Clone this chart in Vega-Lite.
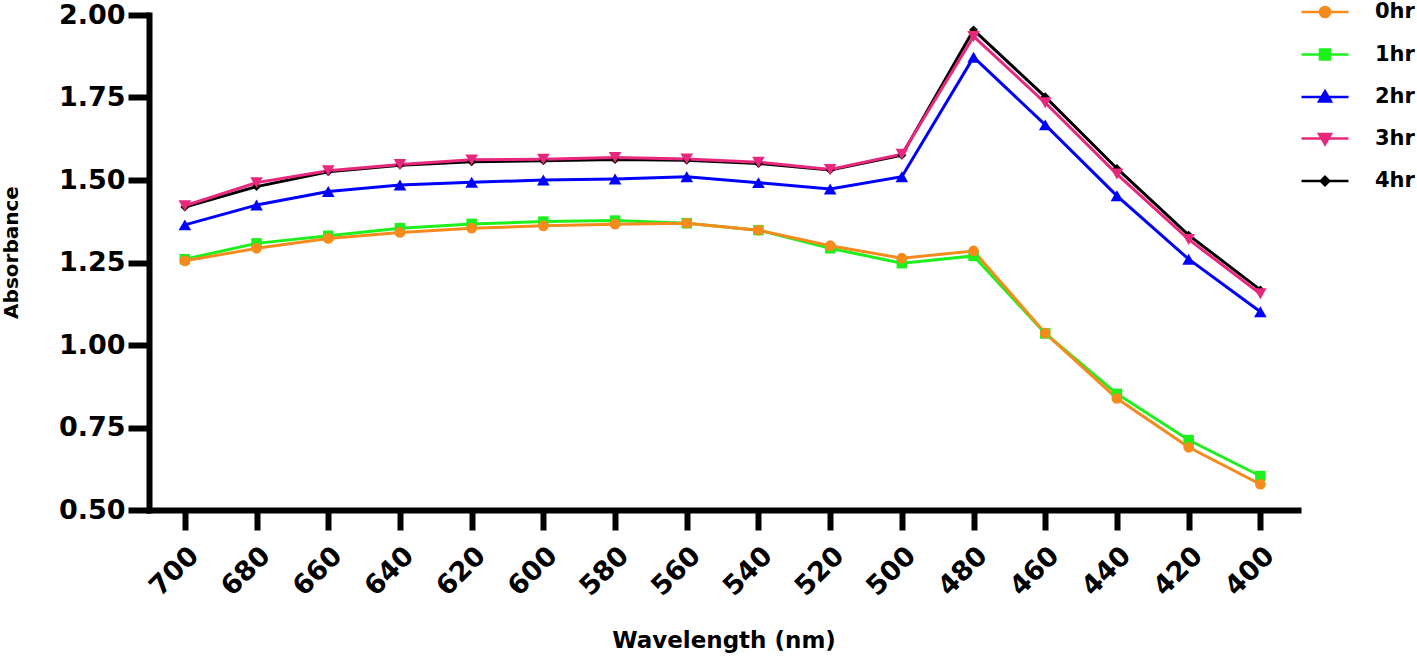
{
  "$schema": "https://vega.github.io/schema/vega-lite/v6.json",
  "autosize": "none",
  "width": 1149,
  "height": 495,
  "padding": {"left": 149, "top": 15, "right": 119, "bottom": 149},
  "background": "white",
  "config": {
    "view": {"stroke": null},
    "font": "DejaVu Sans"
  },
  "data": {
    "values": [
      {"wl": 700, "t": "4hr", "a": 1.418}, {"wl": 680, "t": "4hr", "a": 1.480}, {"wl": 660, "t": "4hr", "a": 1.525}, {"wl": 640, "t": "4hr", "a": 1.545},
      {"wl": 620, "t": "4hr", "a": 1.555}, {"wl": 600, "t": "4hr", "a": 1.558}, {"wl": 580, "t": "4hr", "a": 1.562}, {"wl": 560, "t": "4hr", "a": 1.560},
      {"wl": 540, "t": "4hr", "a": 1.550}, {"wl": 520, "t": "4hr", "a": 1.530}, {"wl": 500, "t": "4hr", "a": 1.575}, {"wl": 480, "t": "4hr", "a": 1.955},
      {"wl": 460, "t": "4hr", "a": 1.752}, {"wl": 440, "t": "4hr", "a": 1.535}, {"wl": 420, "t": "4hr", "a": 1.333}, {"wl": 400, "t": "4hr", "a": 1.167},

      {"wl": 700, "t": "3hr", "a": 1.422}, {"wl": 680, "t": "3hr", "a": 1.492}, {"wl": 660, "t": "3hr", "a": 1.528}, {"wl": 640, "t": "3hr", "a": 1.547},
      {"wl": 620, "t": "3hr", "a": 1.561}, {"wl": 600, "t": "3hr", "a": 1.563}, {"wl": 580, "t": "3hr", "a": 1.568}, {"wl": 560, "t": "3hr", "a": 1.564},
      {"wl": 540, "t": "3hr", "a": 1.554}, {"wl": 520, "t": "3hr", "a": 1.532}, {"wl": 500, "t": "3hr", "a": 1.578}, {"wl": 480, "t": "3hr", "a": 1.935},
      {"wl": 460, "t": "3hr", "a": 1.734}, {"wl": 440, "t": "3hr", "a": 1.518}, {"wl": 420, "t": "3hr", "a": 1.320}, {"wl": 400, "t": "3hr", "a": 1.155},

      {"wl": 700, "t": "2hr", "a": 1.364}, {"wl": 680, "t": "2hr", "a": 1.424}, {"wl": 660, "t": "2hr", "a": 1.465}, {"wl": 640, "t": "2hr", "a": 1.485},
      {"wl": 620, "t": "2hr", "a": 1.493}, {"wl": 600, "t": "2hr", "a": 1.500}, {"wl": 580, "t": "2hr", "a": 1.503}, {"wl": 560, "t": "2hr", "a": 1.510},
      {"wl": 540, "t": "2hr", "a": 1.492}, {"wl": 520, "t": "2hr", "a": 1.473}, {"wl": 500, "t": "2hr", "a": 1.510}, {"wl": 480, "t": "2hr", "a": 1.872},
      {"wl": 460, "t": "2hr", "a": 1.667}, {"wl": 440, "t": "2hr", "a": 1.452}, {"wl": 420, "t": "2hr", "a": 1.260}, {"wl": 400, "t": "2hr", "a": 1.101},

      {"wl": 700, "t": "1hr", "a": 1.260}, {"wl": 680, "t": "1hr", "a": 1.308}, {"wl": 660, "t": "1hr", "a": 1.331}, {"wl": 640, "t": "1hr", "a": 1.354},
      {"wl": 620, "t": "1hr", "a": 1.367}, {"wl": 600, "t": "1hr", "a": 1.374}, {"wl": 580, "t": "1hr", "a": 1.377}, {"wl": 560, "t": "1hr", "a": 1.369},
      {"wl": 540, "t": "1hr", "a": 1.348}, {"wl": 520, "t": "1hr", "a": 1.293}, {"wl": 500, "t": "1hr", "a": 1.248}, {"wl": 480, "t": "1hr", "a": 1.270},
      {"wl": 460, "t": "1hr", "a": 1.035}, {"wl": 440, "t": "1hr", "a": 0.852}, {"wl": 420, "t": "1hr", "a": 0.712}, {"wl": 400, "t": "1hr", "a": 0.603},

      {"wl": 700, "t": "0hr", "a": 1.255}, {"wl": 680, "t": "0hr", "a": 1.293}, {"wl": 660, "t": "0hr", "a": 1.323}, {"wl": 640, "t": "0hr", "a": 1.341},
      {"wl": 620, "t": "0hr", "a": 1.354}, {"wl": 600, "t": "0hr", "a": 1.361}, {"wl": 580, "t": "0hr", "a": 1.366}, {"wl": 560, "t": "0hr", "a": 1.369},
      {"wl": 540, "t": "0hr", "a": 1.348}, {"wl": 520, "t": "0hr", "a": 1.301}, {"wl": 500, "t": "0hr", "a": 1.263}, {"wl": 480, "t": "0hr", "a": 1.285},
      {"wl": 460, "t": "0hr", "a": 1.036}, {"wl": 440, "t": "0hr", "a": 0.838}, {"wl": 420, "t": "0hr", "a": 0.690}, {"wl": 400, "t": "0hr", "a": 0.578}
    ]
  },
  "encoding": {
    "x": {
      "field": "wl", "type": "quantitative",
      "scale": {"domain": [389.5, 710], "reverse": true, "nice": false, "zero": false},
      "axis": {
        "title": "Wavelength (nm)",
        "values": [700, 680, 660, 640, 620, 600, 580, 560, 540, 520, 500, 480, 460, 440, 420, 400],
        "format": "d",
        "grid": false,
        "domainColor": "black", "domainWidth": 6, "domainCap": "square",
        "tickColor": "black", "tickWidth": 6, "tickSize": 20,
        "labelAngle": -45, "labelAlign": "right", "labelBaseline": "top",
        "labelFont": "DejaVu Sans", "labelFontWeight": "bold", "labelFontSize": 27, "labelColor": "black",
        "labelPadding": 12, "labelFlush": false, "labelOverlap": false,
        "titleFont": "DejaVu Sans", "titleFontWeight": "bold", "titleFontSize": 23, "titleColor": "black",
        "titlePadding": 29
      }
    },
    "y": {
      "field": "a", "type": "quantitative",
      "scale": {"domain": [0.5, 2.0], "nice": false, "zero": false},
      "axis": {
        "title": "Absorbance",
        "values": [0.5, 0.75, 1.0, 1.25, 1.5, 1.75, 2.0],
        "format": ".2f",
        "grid": false,
        "domainColor": "black", "domainWidth": 6, "domainCap": "square",
        "tickColor": "black", "tickWidth": 6, "tickSize": 21,
        "labelFont": "DejaVu Sans", "labelFontWeight": "bold", "labelFontSize": 27, "labelColor": "black",
        "labelPadding": 3,
        "titleFont": "DejaVu Sans", "titleFontWeight": "bold", "titleFontSize": 20, "titleColor": "black",
        "titlePadding": 37, "titleY": 237
      }
    },
    "color": {
      "field": "t", "type": "nominal",
      "scale": {"domain": ["0hr", "1hr", "2hr", "3hr", "4hr"], "range": ["#F78A1D", "#1EF01E", "#0000FF", "#E8287C", "#000000"]},
      "legend": {
        "title": null,
        "orient": "none",
        "legendX": 1163,
        "legendY": -16,
        "padding": 0,
        "symbolSize": 552,
        "symbolType": "circle",
        "symbolStrokeWidth": 3,
        "rowPadding": 18.5,
        "labelOffset": 37,
        "labelFont": "DejaVu Sans", "labelFontWeight": "bold", "labelFontSize": 21, "labelColor": "black",
        "labelBaseline": "middle",
        "encode": {
          "symbols": {
            "update": {
              "opacity": {"value": 1},
              "fillOpacity": {"value": 1},
              "strokeOpacity": {"value": 1},
              "fill": {"signal": "datum.value === '0hr' ? '#F78A1D' : datum.value === '1hr' ? '#1EF01E' : datum.value === '2hr' ? '#0000FF' : datum.value === '3hr' ? '#E8287C' : '#000000'"},
              "stroke": {"signal": "datum.value === '0hr' ? '#F78A1D' : datum.value === '1hr' ? '#1EF01E' : datum.value === '2hr' ? '#0000FF' : datum.value === '3hr' ? '#E8287C' : '#000000'"},
              "strokeWidth": {"value": 2.5},
              "size": {"value": 552},
              "shape": {"signal": "datum.value === '0hr' ? 'M-2,0H2M-0.43,0a0.43,0.43 0 1,0 0.86,0a0.43,0.43 0 1,0 -0.86,0Z' : datum.value === '1hr' ? 'M-2,0H2M-0.43,-0.43h0.86v0.86h-0.86Z' : datum.value === '2hr' ? 'M-2,0H2M0,-0.5L0.51,0.38L-0.51,0.38Z' : datum.value === '3hr' ? 'M-2,0H2M0,0.5L0.51,-0.38L-0.51,-0.38Z' : 'M-2,0H2M0,-0.36L0.36,0L0,0.36L-0.36,0Z'"}
            }
          }
        }
      }
    }
  },
  "layer": [
    {
      "mark": {"type": "line", "strokeWidth": 3},
      "encoding": {"detail": {"field": "t"}}
    },
    {
      "transform": [{"filter": {"field": "t", "equal": "4hr"}}],
      "mark": {"type": "point", "filled": true, "opacity": 1, "shape": "diamond", "size": 80}
    },
    {
      "transform": [{"filter": {"field": "t", "equal": "3hr"}}],
      "mark": {"type": "point", "filled": true, "opacity": 1, "shape": "triangle-down", "size": 160}
    },
    {
      "transform": [{"filter": {"field": "t", "equal": "2hr"}}],
      "mark": {"type": "point", "filled": true, "opacity": 1, "shape": "triangle-up", "size": 160}
    },
    {
      "transform": [{"filter": {"field": "t", "equal": "1hr"}}],
      "mark": {"type": "point", "filled": true, "opacity": 1, "shape": "square", "size": 110}
    },
    {
      "transform": [{"filter": {"field": "t", "equal": "0hr"}}],
      "mark": {"type": "point", "filled": true, "opacity": 1, "shape": "circle", "size": 115}
    }
  ]
}
